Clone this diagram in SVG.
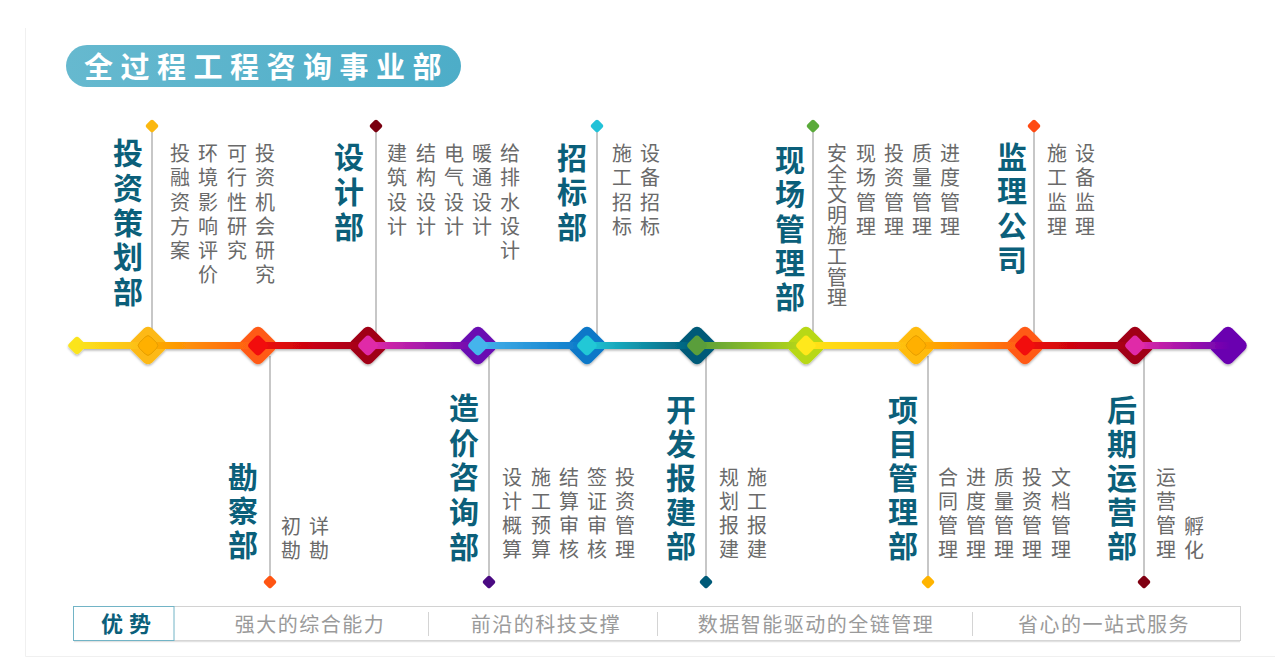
<svg xmlns="http://www.w3.org/2000/svg" xmlns:xlink="http://www.w3.org/1999/xlink" width="1280" height="668" viewBox="0 0 1280 668">
<style>
.h{font-family:"Noto Sans CJK SC","Noto Sans",sans-serif;font-weight:700;font-size:30px;fill:#0b5f7a;writing-mode:vertical-rl;letter-spacing:4.8px}
.d{font-family:"Noto Sans CJK SC","Noto Sans",sans-serif;font-size:20px;fill:#6a6a6a;writing-mode:vertical-rl;letter-spacing:4.3px}
.d2{letter-spacing:4px}
.b{font-family:"Noto Sans CJK SC","Noto Sans",sans-serif;font-size:20px;fill:#9a9a9a;text-anchor:middle;letter-spacing:1.5px}
.stem{stroke:#b4b4b4;stroke-width:1.5;fill:none}
.sep{stroke:#d4d4d4;stroke-width:1}
</style>
<defs>
<rect id="big" x="-15" y="-15" width="30" height="30" rx="6" transform="rotate(45)"/>
<rect id="inn" x="-8" y="-8" width="16" height="16" rx="4" transform="rotate(45)"/>
<rect id="sm" x="-5" y="-5" width="10" height="10" rx="2" transform="rotate(45)"/>
<rect id="st" x="-7" y="-7" width="14" height="14" rx="3" transform="rotate(45)"/>
<linearGradient id="pill" x1="0" y1="0" x2="1" y2="0"><stop offset="0" stop-color="#66b9cf"/><stop offset="1" stop-color="#4dadc8"/></linearGradient>
<linearGradient id="g0" gradientUnits="userSpaceOnUse" x1="77" y1="0" x2="148" y2="0"><stop offset="0" stop-color="#fbe41c"/><stop offset="1" stop-color="#fdb913"/></linearGradient>
<linearGradient id="g1" gradientUnits="userSpaceOnUse" x1="148" y1="0" x2="258" y2="0"><stop offset="0" stop-color="#fdb000"/><stop offset="1" stop-color="#ff5a14"/></linearGradient>
<linearGradient id="g2" gradientUnits="userSpaceOnUse" x1="258" y1="0" x2="368" y2="0"><stop offset="0" stop-color="#f00a0a"/><stop offset="1" stop-color="#a0001a"/></linearGradient>
<linearGradient id="g3" gradientUnits="userSpaceOnUse" x1="368" y1="0" x2="478" y2="0"><stop offset="0" stop-color="#e22aa6"/><stop offset="1" stop-color="#6a0ab0"/></linearGradient>
<linearGradient id="g4" gradientUnits="userSpaceOnUse" x1="478" y1="0" x2="587" y2="0"><stop offset="0" stop-color="#45b2ea"/><stop offset="1" stop-color="#0a78c8"/></linearGradient>
<linearGradient id="g5" gradientUnits="userSpaceOnUse" x1="587" y1="0" x2="697" y2="0"><stop offset="0" stop-color="#22c6d6"/><stop offset="1" stop-color="#005a78"/></linearGradient>
<linearGradient id="g6" gradientUnits="userSpaceOnUse" x1="697" y1="0" x2="806" y2="0"><stop offset="0" stop-color="#5a9e3a"/><stop offset="1" stop-color="#b8d818"/></linearGradient>
<linearGradient id="g7" gradientUnits="userSpaceOnUse" x1="806" y1="0" x2="916" y2="0"><stop offset="0" stop-color="#ffe41a"/><stop offset="1" stop-color="#ffbb10"/></linearGradient>
<linearGradient id="g8" gradientUnits="userSpaceOnUse" x1="916" y1="0" x2="1025" y2="0"><stop offset="0" stop-color="#ffb400"/><stop offset="1" stop-color="#ff5a14"/></linearGradient>
<linearGradient id="g9" gradientUnits="userSpaceOnUse" x1="1025" y1="0" x2="1135" y2="0"><stop offset="0" stop-color="#f00a0a"/><stop offset="1" stop-color="#a0001a"/></linearGradient>
<linearGradient id="g10" gradientUnits="userSpaceOnUse" x1="1135" y1="0" x2="1230" y2="0"><stop offset="0" stop-color="#e22aa6"/><stop offset="1" stop-color="#6a00b0"/></linearGradient>
<filter id="sh" x="-5%" y="-50%" width="110%" height="200%"><feDropShadow dx="0" dy="1.5" stdDeviation="1" flood-color="#000" flood-opacity="0.3"/></filter>
</defs>
<rect width="1280" height="668" fill="#ffffff"/>
<path d="M25.5 28 V656.5 H1275" fill="none" stroke="#f0f0f0" stroke-width="1"/>

<g id="title">
<rect x="66" y="45" width="395" height="42" rx="21" fill="url(#pill)"/>
<text x="84" y="77.5" font-family="Noto Sans CJK SC, Noto Sans, sans-serif" font-weight="700" font-size="29" letter-spacing="7.5" fill="#ffffff">全过程工程咨询事业部</text>
</g>

<g id="connectors">
<line class="stem" x1="152" y1="126" x2="152" y2="332"/>
<line class="stem" x1="376" y1="126" x2="376" y2="334"/>
<line class="stem" x1="597" y1="126" x2="597" y2="336"/>
<line class="stem" x1="813" y1="126" x2="813" y2="334"/>
<line class="stem" x1="1034" y1="126" x2="1034" y2="336"/>
<line class="stem" x1="270" y1="356" x2="270" y2="582"/>
<line class="stem" x1="489" y1="356" x2="489" y2="582"/>
<line class="stem" x1="706" y1="356" x2="706" y2="582"/>
<line class="stem" x1="928" y1="356" x2="928" y2="582"/>
<line class="stem" x1="1144" y1="356" x2="1144" y2="582"/>
<use xlink:href="#sm" x="152" y="126" fill="#fbb810"/>
<use xlink:href="#sm" x="376" y="126" fill="#7a0010"/>
<use xlink:href="#sm" x="597" y="126" fill="#22c2d8"/>
<use xlink:href="#sm" x="813" y="126" fill="#5aaa3a"/>
<use xlink:href="#sm" x="1034" y="126" fill="#ff4a12"/>
<use xlink:href="#sm" x="270" y="582" fill="#ff5512"/>
<use xlink:href="#sm" x="489" y="582" fill="#4a0a82"/>
<use xlink:href="#sm" x="706" y="582" fill="#005a78"/>
<use xlink:href="#sm" x="928" y="582" fill="#ffb400"/>
<use xlink:href="#sm" x="1144" y="582" fill="#800012"/>
</g>

<g id="timeline" filter="url(#sh)">
<use xlink:href="#st" x="77" y="345.5" fill="#fbe41c"/>
<use xlink:href="#big" x="148" y="345.5" fill="#fdb913"/>
<use xlink:href="#big" x="258" y="345.5" fill="#ff5a14"/>
<use xlink:href="#big" x="368" y="345.5" fill="#a00019"/>
<use xlink:href="#big" x="478" y="345.5" fill="#6a0ab2"/>
<use xlink:href="#big" x="587" y="345.5" fill="#0a78c8"/>
<use xlink:href="#big" x="697" y="345.5" fill="#005a78"/>
<use xlink:href="#big" x="806" y="345.5" fill="#b8d818"/>
<use xlink:href="#big" x="916" y="345.5" fill="#ffbb10"/>
<use xlink:href="#big" x="1025" y="345.5" fill="#ff5a14"/>
<use xlink:href="#big" x="1135" y="345.5" fill="#a00019"/>
<use xlink:href="#big" x="1228" y="345.5" fill="#6a00b0"/>
<rect x="77" y="342" width="71" height="7" fill="url(#g0)"/>
<rect x="148" y="342" width="110" height="7" fill="url(#g1)"/>
<rect x="258" y="342" width="110" height="7" fill="url(#g2)"/>
<rect x="368" y="342" width="110" height="7" fill="url(#g3)"/>
<rect x="478" y="342" width="109" height="7" fill="url(#g4)"/>
<rect x="587" y="342" width="110" height="7" fill="url(#g5)"/>
<rect x="697" y="342" width="109" height="7" fill="url(#g6)"/>
<rect x="806" y="342" width="110" height="7" fill="url(#g7)"/>
<rect x="916" y="342" width="109" height="7" fill="url(#g8)"/>
<rect x="1025" y="342" width="110" height="7" fill="url(#g9)"/>
<rect x="1135" y="342" width="95" height="7" fill="url(#g10)"/>
<use xlink:href="#inn" x="148" y="345.5" fill="#ffb000" stroke="#e09a00" stroke-width="0.8"/>
<use xlink:href="#inn" x="258" y="345.5" fill="#f2080a"/>
<use xlink:href="#inn" x="368" y="345.5" fill="#e02aa8"/>
<use xlink:href="#inn" x="478" y="345.5" fill="#44b4ec"/>
<use xlink:href="#inn" x="587" y="345.5" fill="#20c8d6"/>
<use xlink:href="#inn" x="697" y="345.5" fill="#5a9e3a"/>
<use xlink:href="#inn" x="806" y="345.5" fill="#ffe81a"/>
<use xlink:href="#inn" x="916" y="345.5" fill="#ffb000" stroke="#e09a00" stroke-width="0.8"/>
<use xlink:href="#inn" x="1025" y="345.5" fill="#f2080a"/>
<use xlink:href="#inn" x="1135" y="345.5" fill="#e02aa8"/>
</g>

<g id="node-touzi">
<text class="h" x="128" y="137.6">投资策划部</text>
<text class="d" x="180" y="143.4">投融资方案</text>
<text class="d" x="208" y="143.4">环境影响评价</text>
<text class="d" x="237" y="143.4">可行性研究</text>
<text class="d" x="265" y="143.4">投资机会研究</text>
</g>

<g id="node-sheji">
<text class="h" x="349" y="141.6">设计部</text>
<text class="d" x="397" y="143.4">建筑设计</text>
<text class="d" x="426" y="143.4">结构设计</text>
<text class="d" x="454" y="143.4">电气设计</text>
<text class="d" x="482" y="143.4">暖通设计</text>
<text class="d" x="510" y="143.4">给排水设计</text>
</g>

<g id="node-zhaobiao">
<text class="h" x="572" y="142.6" style="letter-spacing:4.5px">招标部</text>
<text class="d" x="622" y="143.4">施工招标</text>
<text class="d" x="650" y="143.4">设备招标</text>
</g>

<g id="node-xianchang">
<text class="h" x="790" y="144.6" style="letter-spacing:4.3px">现场管理部</text>
<text class="d" x="837" y="143.4" style="letter-spacing:0.6px">安全文明施工管理</text>
<text class="d" x="866" y="143.4">现场管理</text>
<text class="d" x="894" y="143.4">投资管理</text>
<text class="d" x="922" y="143.4">质量管理</text>
<text class="d" x="950" y="143.4">进度管理</text>
</g>

<g id="node-jianli">
<text class="h" x="1012" y="141.6" style="letter-spacing:4.3px">监理公司</text>
<text class="d" x="1057" y="143.4">施工监理</text>
<text class="d" x="1085" y="143.4">设备监理</text>
</g>

<g id="node-kancha">
<text class="h" x="243" y="461.6" style="letter-spacing:4px">勘察部</text>
<text class="d d2" x="291" y="516.9">初勘</text>
<text class="d d2" x="319" y="516.9">详勘</text>
</g>

<g id="node-zaojia">
<text class="h" x="464" y="392.6" style="letter-spacing:4.7px">造价咨询部</text>
<text class="d d2" x="512" y="467.9">设计概算</text>
<text class="d d2" x="541" y="467.9">施工预算</text>
<text class="d d2" x="569" y="467.9">结算审核</text>
<text class="d d2" x="597" y="467.9">签证审核</text>
<text class="d d2" x="625" y="467.9">投资管理</text>
</g>

<g id="node-kaifa">
<text class="h" x="681" y="394.6" style="letter-spacing:4px">开发报建部</text>
<text class="d d2" x="729" y="467.9">规划报建</text>
<text class="d d2" x="757" y="467.9">施工报建</text>
</g>

<g id="node-xiangmu">
<text class="h" x="903" y="394.6" style="letter-spacing:4px">项目管理部</text>
<text class="d d2" x="948" y="467.9">合同管理</text>
<text class="d d2" x="976" y="467.9">进度管理</text>
<text class="d d2" x="1004" y="467.9">质量管理</text>
<text class="d d2" x="1032" y="467.9">投资管理</text>
<text class="d d2" x="1061" y="467.9">文档管理</text>
</g>

<g id="node-houqi">
<text class="h" x="1122" y="394.6" style="letter-spacing:4px">后期运营部</text>
<text class="d d2" x="1166" y="467.9">运营管理</text>
<text class="d d2" x="1194" y="516.9">孵化</text>
</g>

<g id="advantages">
<rect x="73.5" y="606.5" width="1167" height="34" fill="#ffffff" stroke="#d2d2d2" stroke-width="1"/>
<line x1="74" y1="641.5" x2="1240" y2="641.5" stroke="#e2e2e2" stroke-width="1.5"/>
<rect x="73.5" y="606.5" width="100.5" height="34" fill="#ffffff" stroke="#72b4c6" stroke-width="1"/>
<text x="101" y="632" font-family="Noto Sans CJK SC, Noto Sans, sans-serif" font-weight="700" font-size="22" letter-spacing="6" fill="#0b5f7a">优势</text>
<line class="sep" x1="428.5" y1="612" x2="428.5" y2="636"/>
<line class="sep" x1="657.5" y1="612" x2="657.5" y2="636"/>
<line class="sep" x1="972.5" y1="612" x2="972.5" y2="636"/>
<text class="b" x="310" y="632">强大的综合能力</text>
<text class="b" x="546" y="632">前沿的科技支撑</text>
<text class="b" x="816" y="632">数据智能驱动的全链管理</text>
<text class="b" x="1104" y="632">省心的一站式服务</text>
</g>
</svg>
